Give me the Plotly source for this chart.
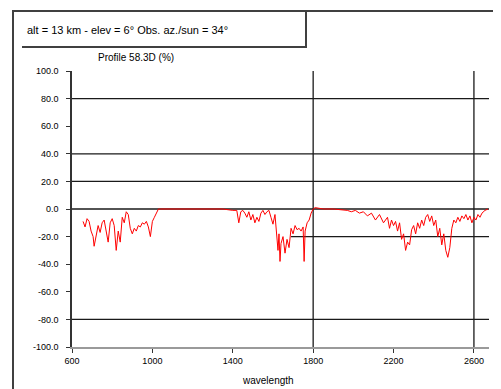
import plotly.graph_objects as go

# ---- data ----
wavelength = [
    655, 665, 675, 685, 695, 705, 710, 720, 730, 740, 750, 760, 770, 780, 790, 800,
    810, 820, 830, 840, 850, 860, 870, 880, 890, 900, 910, 920, 930, 940, 950, 960,
    970, 980, 990, 1000, 1010, 1020, 1030,
    1040, 1100, 1150, 1200, 1250, 1300, 1350, 1400,
    1420, 1430, 1440, 1450, 1460, 1470, 1480, 1490, 1500, 1510, 1520, 1530, 1540,
    1550, 1560, 1570, 1580, 1590, 1600, 1610, 1620, 1625, 1630, 1635, 1640, 1650,
    1660, 1670, 1680, 1690, 1700, 1710, 1720, 1730, 1740, 1750, 1755, 1760, 1770,
    1780, 1790, 1800,
    1810, 1850, 1900, 1950,
    1970, 1990, 2010, 2030, 2050, 2070, 2090, 2110, 2130, 2150, 2170, 2180, 2190,
    2200, 2210, 2220, 2230, 2240, 2250, 2260, 2270, 2280, 2290, 2300, 2310, 2320,
    2330, 2340, 2350, 2360, 2370, 2380, 2390, 2400, 2410, 2420, 2430, 2440, 2450,
    2460, 2470, 2480, 2490, 2500, 2510, 2520, 2530, 2540, 2550, 2560, 2570, 2580,
    2590, 2600, 2610, 2620, 2630, 2640, 2655, 2670,
]
profile = [
    -9, -13, -7, -9, -16, -20, -27, -18, -12, -17, -10, -8, -15, -24, -10, -7,
    -12, -30, -16, -24, -6, -10, -2, -4, -14, -18, -14, -16, -12, -13, -10, -11,
    -9, -13, -20, -9, -6, -3, 0,
    0, 0, -0.5, 0, 0, -0.5, 0, -1,
    -1, -10, -2, -1, -3, -6, -2, -8, -4, -10, -6, -9, -3,
    -1, -4, -2, -1, -6, -11, -4, -22, -30, -18, -38, -25, -20,
    -32, -22, -28, -14, -18, -12, -15, -14, -16, -13, -38, -16, -10,
    -8, -3, 0,
    1, 0, 0, -0.5,
    -1, -2, -1, -3, -2, -5, -3, -8, -4, -10, -6, -14, -8,
    -12, -9, -16, -10, -22, -18, -30, -24, -26, -15, -12, -18, -10,
    -14, -8, -12, -6, -4, -9, -5, -12, -8, -20, -14, -26, -18,
    -30, -35, -28, -14, -8, -10, -6, -9, -5, -7, -4, -8, -5,
    -10, -6, -8, -4, -6, -3, -1, 0,
]
x_ticks = [600, 1000, 1400, 1800, 2200, 2600]
y_ticks = [100, 80, 60, 40, 20, 0, -20, -40, -60, -80, -100]
h_grid = [80, 40, 20, 0, -80]
v_grid = [1800, 2600]

title_text = "alt = 13 km - elev = 6° Obs. az./sun = 34°"
subtitle_text = "Profile 58.3D (%)"
x_title = "wavelength"

FONT = "Liberation Sans, Arial, sans-serif"

fig = go.Figure()
fig.add_trace(go.Scatter(
    x=wavelength, y=profile, mode="lines",
    line=dict(color="#ff0000", width=1),
    showlegend=False, hoverinfo="skip",
))

shapes = []
for g in h_grid:
    shapes.append(dict(type="line", xref="paper", yref="y", x0=0, x1=1, y0=g, y1=g,
                       line=dict(color="#1a1a1a", width=1.3), layer="below"))
# partially visible -20 gridline
shapes.append(dict(type="line", xref="x", yref="y", x0=1690, x1=2675, y0=-20, y1=-20,
                   line=dict(color="#1a1a1a", width=1.3), layer="below"))
for g in v_grid:
    shapes.append(dict(type="line", xref="x", yref="paper", x0=g, x1=g, y0=0, y1=1,
                       line=dict(color="#1a1a1a", width=1.3), layer="below"))

# page-pixel -> paper helpers (page has an 8px body offset)
def px_x(p):
    return (p - 72) / 417.0

def px_y(p):
    return (347.5 - p) / 276.5

shapes.append(dict(type="path", xref="paper", yref="paper",
                   path=f"M {px_x(13)},{px_y(400)} L {px_x(13)},{px_y(11)} L {px_x(505)},{px_y(11)}",
                   line=dict(color="#404040", width=2)))
shapes.append(dict(type="path", xref="paper", yref="paper",
                   path=f"M {px_x(22)},{px_y(47)} L {px_x(306)},{px_y(47)} L {px_x(306)},{px_y(11)}",
                   line=dict(color="#404040", width=2)))

annotations = [
    dict(text=title_text, xref="paper", yref="paper", x=px_x(25), y=px_y(30),
         xanchor="left", yanchor="middle", showarrow=False,
         font=dict(family=FONT, size=11, color="#000000")),
    dict(text=subtitle_text, xref="paper", yref="paper", x=px_x(136), y=px_y(57),
         xanchor="center", yanchor="middle", showarrow=False,
         font=dict(family=FONT, size=10, color="#000000")),
    dict(text=x_title, xref="paper", yref="paper", x=px_x(268), y=px_y(381),
         xanchor="center", yanchor="middle", showarrow=False,
         font=dict(family=FONT, size=10, color="#000000")),
]

fig.update_layout(
    width=493, height=381,
    margin=dict(l=64, r=12, t=63, b=41.5),
    paper_bgcolor="white", plot_bgcolor="white",
    font=dict(family=FONT, size=9, color="#000000"),
    shapes=shapes, annotations=annotations,
    xaxis=dict(range=[600, 2675], tickvals=x_ticks, ticktext=[str(v) for v in x_ticks],
               showgrid=False, zeroline=False, showline=True, linecolor="#9a9a9a",
               linewidth=1.5, ticks="outside", ticklen=4, tickcolor="#333333",
               tickfont=dict(family=FONT, size=9, color="#000000")),
    yaxis=dict(range=[-100, 100], tickvals=y_ticks, ticktext=[f"{v:.1f}" for v in y_ticks],
               showgrid=False, zeroline=False, showline=True, linecolor="#333333",
               linewidth=1.5, ticks="outside", ticklen=4, tickcolor="#333333",
               ticklabelstandoff=6,
               tickfont=dict(family=FONT, size=9, color="#000000")),
)

fig.write_html("out.html")
